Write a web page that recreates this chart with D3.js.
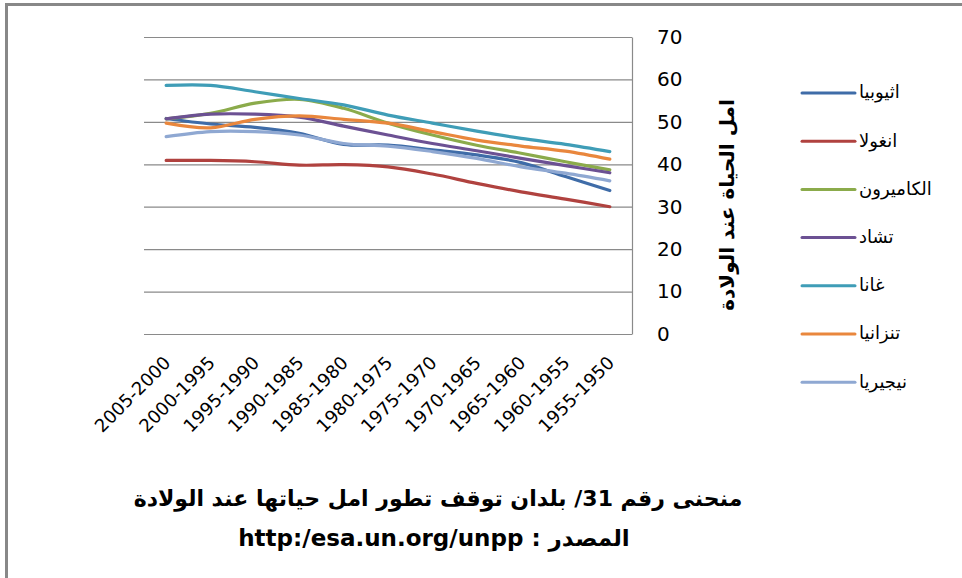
<!DOCTYPE html>
<html lang="ar">
  <head>
    <meta charset="utf-8">
    <script src="https://d3js.org/d3.v7.min.js"></script>
    <style>
      body { margin: 0; background: #fff; }
      svg { display: block; }
      .grid line { stroke: #8a8a8a; stroke-width: 1.2; }
      .grid path { stroke: #8a8a8a; stroke-width: 1.2; }
      .grid text { font-family: "DejaVu Sans", sans-serif; font-size: 20px; fill: #000; }
      .xaxis text { font-family: "DejaVu Sans", sans-serif; font-size: 18px; fill: #000; }
      .serie { fill: none; stroke-width: 3.2; stroke-linecap: round; stroke-linejoin: round; }
    </style>
  </head>
<body>
  <div id="chart"></div>
  <script>
    // chart data
    var periods = ["2005-2000", "2000-1995", "1995-1990", "1990-1985", "1985-1980", "1980-1975",
                   "1975-1970", "1970-1965", "1965-1960", "1960-1955", "1955-1950"];
    var countries = ["اثيوبيا", "انغولا", "الكاميرون", "تشاد", "غانا", "تنزانيا", "نيجيريا"];
    var ethiopia = [50.8, 49.5, 48.7, 47.3, 44.7, 44.5, 43.4, 42.2, 40.4, 37.1, 33.8];
    var angola   = [40.9, 40.9, 40.6, 39.8, 39.9, 39.4, 37.7, 35.5, 33.5, 31.8, 30.0];
    var cameroon = [50.7, 52.0, 54.4, 55.3, 53.2, 49.7, 46.9, 44.5, 42.6, 40.6, 38.7];
    var chad     = [50.7, 51.8, 51.8, 51.1, 49.0, 46.9, 44.9, 43.2, 41.4, 39.7, 38.0];
    var ghana    = [58.6, 58.6, 57.1, 55.5, 54.0, 51.6, 49.7, 47.8, 46.1, 44.7, 43.0];
    var tanzania = [49.7, 48.6, 50.6, 51.4, 50.6, 49.7, 47.7, 45.7, 44.3, 43.1, 41.2];
    var nigeria  = [46.5, 47.7, 47.7, 46.9, 44.9, 44.3, 43.0, 41.4, 39.4, 37.9, 36.1];
    var yTicks = [0, 10, 20, 30, 40, 50, 60, 70];
    var yTitle = "امل الحياة عند الولادة";
    var title1 = "منحنى رقم 31/ بلدان توقف تطور امل حياتها عند الولادة";
    var title2 = "المصدر : http:/esa.un.org/unpp";

    var values = [ethiopia, angola, cameroon, chad, ghana, tanzania, nigeria];
    var colors = ["#3f6ca8", "#b0423f", "#8bab4b", "#6c5193", "#3f9db7", "#e9873d", "#8fa8d2"];

    // plot setup
    var width = 962;
    var height = 578;
    var plotLeft = 144, plotRight = 632, plotTop = 37, plotBottom = 334;

    var svg = d3.select("#chart")
                .append("svg")
                .attr("width", width)
                .attr("height", height);

    // outer frame (top and left edges only)
    svg.append("path")
        .attr("d", "M6.5,578 L6.5,4.5 L962,4.5")
        .attr("fill", "none")
        .attr("stroke", "#888")
        .attr("stroke-width", 3);

    // scales
    var xScale = d3.scalePoint()
                   .domain(periods)
                   .range([plotLeft, plotRight])
                   .padding(0.5);

    var yScale = d3.scaleLinear()
                   .domain([0, 70])
                   .range([plotBottom, plotTop]);

    // y axis on the right with gridlines
    var yAxis = d3.axisRight(yScale)
                  .tickValues(yTicks)
                  .tickSizeInner(-(plotRight - plotLeft))
                  .tickSizeOuter(0)
                  .tickPadding(25);

    svg.append("g")
        .attr("class", "grid")
        .attr("transform", "translate(" + plotRight + ",0)")
        .call(yAxis);

    // x axis labels, rotated
    var xAxis = d3.axisBottom(xScale).tickSize(0);

    var gx = svg.append("g")
        .attr("class", "xaxis")
        .attr("transform", "translate(0," + plotBottom + ")")
        .call(xAxis);
    gx.select(".domain").remove();
    gx.selectAll("text")
        .attr("y", null)
        .attr("dy", null)
        .attr("text-anchor", "end")
        .attr("transform", "translate(5,30) rotate(-45)");

    // lines
    var line = d3.line()
        .x(function(d, i) { return xScale(periods[i]); })
        .y(function(d) { return yScale(d); })
        .curve(d3.curveCatmullRom);

    svg.append("g")
        .selectAll("path")
        .data(values)
        .enter()
        .append("path")
        .attr("class", "serie")
        .attr("stroke", function(d, i) { return colors[i]; })
        .attr("d", line);

    // y axis title
    svg.append("text")
        .attr("transform", "translate(727,205) rotate(-90)")
        .attr("text-anchor", "middle")
        .attr("direction", "rtl")
        .attr("dy", "0.35em")
        .style("font-family", "DejaVu Sans, sans-serif")
        .style("font-weight", "bold")
        .style("font-size", "20px")
        .text(yTitle);

    // legend
    var legend = svg.append("g")
        .selectAll("g")
        .data(countries)
        .enter()
        .append("g")
        .attr("transform", function(d, i) { return "translate(802," + (93 + i * 48.2) + ")"; });

    legend.append("line")
        .attr("x1", 0)
        .attr("x2", 53)
        .attr("stroke", function(d, i) { return colors[i]; })
        .attr("stroke-width", 3)
        .attr("stroke-linecap", "round");

    legend.append("text")
        .attr("x", 57)
        .attr("dy", "0.3em")
        .style("font-family", "DejaVu Sans, sans-serif")
        .style("font-size", "18px")
        .text(function(d) { return d; });

    // chart title at the bottom
    svg.append("text")
        .attr("x", 438)
        .attr("y", 506)
        .attr("text-anchor", "middle")
        .attr("direction", "rtl")
        .style("font-family", "DejaVu Sans, sans-serif")
        .style("font-weight", "bold")
        .style("font-size", "22px")
        .text(title1);

    svg.append("text")
        .attr("x", 434)
        .attr("y", 546)
        .attr("text-anchor", "middle")
        .attr("direction", "rtl")
        .style("font-family", "DejaVu Sans, sans-serif")
        .style("font-weight", "bold")
        .style("font-size", "23px")
        .text(title2);
  </script>
</body>
</html>
